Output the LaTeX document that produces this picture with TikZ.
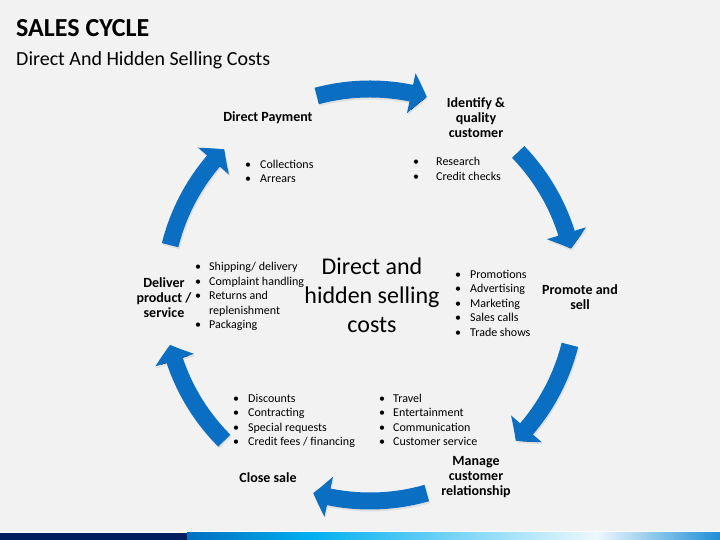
\documentclass[tikz,border=0pt]{standalone}
\usepackage{fontspec}
\setmainfont{Carlito}
\usetikzlibrary{arrows.meta,calc,bending}
\definecolor{bg}{HTML}{F2F2F2}
\definecolor{arrowblue}{HTML}{0A6FC2}
\definecolor{navy}{HTML}{002060}
\definecolor{barblue}{HTML}{0070C0}
\definecolor{cyanb}{HTML}{00B0F0}
\definecolor{paleb}{HTML}{EEF8FD}
\definecolor{endb}{HTML}{1E8ED6}
\newcommand{\blist}[2]{{\fontsize{12}{14.5}\selectfont\begin{tabular}{@{}l@{\hspace{#1}}l@{}}#2\end{tabular}}}
\newcommand{\bu}{\makebox[10pt]{\textbullet}}
\begin{document}
\begin{tikzpicture}[x=1pt,y=1pt,
  cyclearrow/.style={line width=17pt, draw=arrowblue, -{Triangle[width=40pt,length=16pt,bend]}},
  arrowshadow/.style={line width=17pt, draw=black, draw opacity=0.07, -{Triangle[width=40pt,length=16pt,bend]}},
  steplabel/.style={font=\fontsize{14}{15}\selectfont\bfseries, align=center, inner sep=0pt},
  items/.style={anchor=west, inner sep=0pt},
  centertext/.style={font=\fontsize{24}{29}\selectfont, align=center, inner sep=0pt}]
\fill[bg] (0,0) rectangle (720,540);
\useasboundingbox (0,0) rectangle (720,540);
% bottom bar
\fill[white, opacity=0.8] (0,7) rectangle (720,8.5);
\fill[navy] (0,0) rectangle (187.5,7);
\shade[left color=barblue,right color=cyanb] (187,0) rectangle (312.5,7);
\shade[left color=cyanb,right color=paleb] (312,0) rectangle (597.5,7);
\shade[left color=paleb,right color=endb] (597,0) rectangle (720,7);
% titles
\node[anchor=base west, font=\fontsize{26}{30}\selectfont\bfseries, inner sep=0pt] (title) at (16,503.5) {SALES CYCLE};
\node[anchor=base west, font=\fontsize{20}{24}\selectfont, inner sep=0pt] (subtitle) at (16,474) {Direct And Hidden Selling Costs};
% cycle arrows
\coordinate (C) at (370,245);
\foreach \a/\b in {105/74, 44/13, -14/-45, -74/-106, -135/-166, 166/135} {
  \draw[arrowshadow] ($(C)+(\a:206)+(1,-2)$) arc[start angle=\a, end angle=\b, radius=206];
}
\foreach \a/\b in {105/74, 44/13, -14/-45, -74/-106, -135/-166, 166/135} {
  \draw[cyclearrow] ($(C)+(\a:206)$) arc[start angle=\a, end angle=\b, radius=206];
}
% centre text
\node[centertext] (centre) at (372,244.5) {Direct and\\hidden selling\\costs};
% step labels
\node[steplabel] (pay) at (268,422.5) {Direct Payment};
\node[steplabel] (ident) at (476,422.5) {Identify \&\\quality\\customer};
\node[steplabel] (promote) at (580,242.5) {Promote and\\sell};
\node[steplabel] (manage) at (476,62.5) {Manage\\customer\\relationship};
\node[steplabel] (close) at (268,62.5) {Close sale};
\node[steplabel] (deliver) at (164,242.5) {Deliver\\product /\\service};
% item lists
\node[items] (paylist) at (243,367.5) {\blist{7pt}{\bu & Collections\\ \bu & Arrears}};
\node[items] (identlist) at (411,370) {\blist{15pt}{\bu & Research\\ \bu & Credit checks}};
\node[items] (promolist) at (453,235.5) {\blist{7pt}{\bu & Promotions\\ \bu & Advertising\\ \bu & Marketing\\ \bu & Sales calls\\ \bu & Trade shows}};
\node[items] (managelist) at (377,119) {\blist{6pt}{\bu & Travel\\ \bu & Entertainment\\ \bu & Communication\\ \bu & Customer service}};
\node[items] (closelist) at (231,119) {\blist{7pt}{\bu & Discounts\\ \bu & Contracting\\ \bu & Special requests\\ \bu & Credit fees / financing}};
\node[items] (deliverlist) at (193,243) {\blist{6pt}{\bu & Shipping/ delivery\\ \bu & Complaint handling\\ \bu & Returns and\\ & replenishment\\ \bu & Packaging}};
\end{tikzpicture}
\end{document}
